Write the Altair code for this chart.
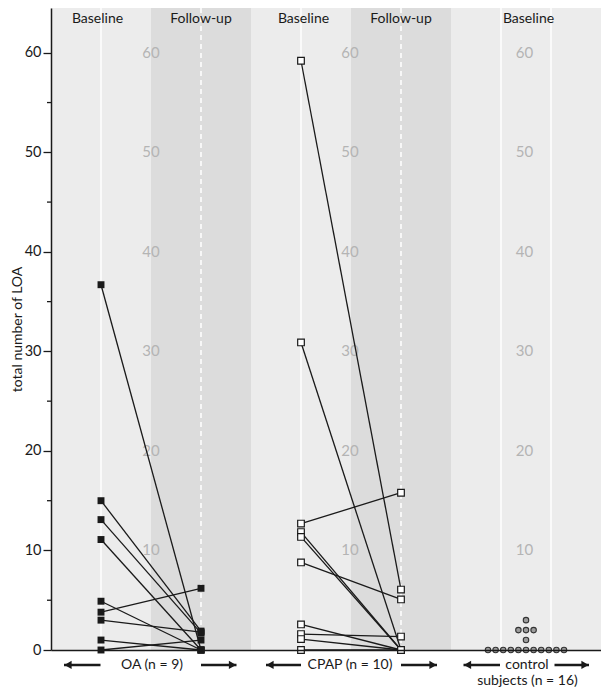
import altair as alt
import pandas as pd

# ---- data ----
oa_baseline = [36.7, 15.0, 13.1, 11.1, 4.9, 3.8, 3.0, 1.0, 0.0]
oa_followup = [0.0, 1.9, 1.7, 0.0, 0.0, 6.2, 1.8, 0.0, 1.0]
cpap_baseline = [59.2, 30.9, 12.7, 11.85, 11.36, 8.8, 2.57, 1.6, 1.1, 0.0]
cpap_followup = [6.07, 0.0, 15.8, 0.0, 0.0, 5.08, 0.0, 1.35, 0.0, 0.0]
control_baseline = [0] * 11 + [1, 2, 2, 2, 3]

# column positions (x units)
oa_pos = [1, 3]
cpap_pos = [5, 7]
control_pos = 9.5
dark_bands = [(2, 4), (6, 8)]
white_solid = [1, 5, 9, 10]
white_dashed = [3, 7]
inner_label_x = [2, 5.98, 9.47]
inner_label_vals = [10, 20, 30, 40, 50, 60]
headers = ["Baseline", "Follow-up", "Baseline", "Follow-up", "Baseline"]
header_x = [0.93, 3.0, 5.05, 7.0, 9.55]
header_y = 63.4
group_labels = ["OA (n = 9)", "CPAP (n = 10)", "control", "subjects (n = 16)"]
group_label_x = [2.02, 5.98, 9.52, 9.53]
group_label_y = [-1.5, -1.5, -1.5, -3.15]
arrow_y = -1.5
arrow_tail = [0.99, 3.0, 5.0, 7.0, 8.98, 10.07]
arrow_tip = [0.26, 3.71, 4.3, 7.72, 8.25, 10.76]
major_ticks = [0, 10, 20, 30, 40, 50, 60]
minor_ticks = [5, 15, 25, 35, 45, 55]

W, H = 550, 642
XS = alt.Scale(domain=[0, 11], nice=False, zero=False)
YS = alt.Scale(domain=[0, 64.5], nice=False, zero=False)
FONT = "Lato"
INK = "#1a1a1a"

# ---- tables ----
pairs = []
for i, (b, f) in enumerate(zip(oa_baseline, oa_followup)):
    pairs += [dict(id=f"oa{i}", grp="OA", x=oa_pos[0], v=b), dict(id=f"oa{i}", grp="OA", x=oa_pos[1], v=f)]
for i, (b, f) in enumerate(zip(cpap_baseline, cpap_followup)):
    pairs += [dict(id=f"cp{i}", grp="CPAP", x=cpap_pos[0], v=b), dict(id=f"cp{i}", grp="CPAP", x=cpap_pos[1], v=f)]
pairs = pd.DataFrame(pairs)

ctrl = pd.DataFrame({"v": control_baseline})
ctrl["k"] = ctrl.groupby("v").cumcount()
ctrl["n"] = ctrl.groupby("v")["v"].transform("count")
ctrl["x"] = control_pos + (ctrl["k"] - (ctrl["n"] - 1) / 2) * 0.152

bands = pd.DataFrame({"x": [b[0] for b in dark_bands], "x2": [b[1] for b in dark_bands]})
solid = pd.DataFrame({"x": white_solid})
dashed = pd.DataFrame({"x": white_dashed})
inner = pd.DataFrame([dict(x=xx, v=vv, t=str(vv)) for xx in inner_label_x for vv in inner_label_vals])
hdr = pd.DataFrame({"x": header_x, "t": headers, "v": header_y})
glab = pd.DataFrame({"x": group_label_x, "t": group_labels, "v": group_label_y})
arrows = pd.DataFrame({"x": arrow_tail, "x2": arrow_tip, "v": arrow_y})
arrows["dir"] = ["left" if t < s else "right" for s, t in zip(arrow_tail, arrow_tip)]
arrows["hx"] = [t + (0.08 if d == "left" else -0.08) for t, d in zip(arrows["x2"], arrows["dir"])]
minor = pd.DataFrame({"v": minor_ticks})

Y_AXIS = alt.Axis(values=major_ticks, tickSize=8, tickColor=INK, tickWidth=1.3,
                  domainColor=INK, domainWidth=1.5, labelFont=FONT, labelFontSize=14.5,
                  labelColor=INK, labelPadding=2, grid=False, title="total number of LOA",
                  titleFont=FONT, titleFontSize=14, titleFontWeight="normal", titleColor=INK,
                  titleX=-34, titleY=H / 2, titleBaseline="middle", titleAngle=270, zindex=1)
X_AXIS = alt.Axis(labels=False, ticks=False, grid=False, title=None, domainColor=INK,
                  domainWidth=1.5, zindex=1)


def X(f):
    return alt.X(f, scale=XS, axis=X_AXIS)


def Y(f):
    return alt.Y(f, scale=YS, axis=Y_AXIS)


band_layer = alt.Chart(bands).mark_rect(color="#dcdcdc").encode(
    x=X("x:Q"), x2="x2:Q", y=alt.value(0), y2=alt.value(H))

solid_layer = alt.Chart(solid).mark_rule(color="white", strokeWidth=1.5).encode(
    x=X("x:Q"), y=alt.value(0), y2=alt.value(H))
dashed_layer = alt.Chart(dashed).mark_rule(color="white", strokeWidth=1.5, strokeDash=[5, 4]).encode(
    x=X("x:Q"), y=alt.value(0), y2=alt.value(H))

inner_layer = alt.Chart(inner).mark_text(font=FONT, fontSize=15, color="#b4b4b4").encode(
    x=X("x:Q"), y=Y("v:Q"), text="t:N")

line_layer = alt.Chart(pairs).mark_line(color=INK, strokeWidth=1.3).encode(
    x=X("x:Q"), y=Y("v:Q"), detail="id:N")

oa_pts = alt.Chart(pairs[pairs.grp == "OA"]).mark_square(size=48, color=INK, opacity=1).encode(
    x=X("x:Q"), y=Y("v:Q"))
cp_pts = alt.Chart(pairs[pairs.grp == "CPAP"]).mark_point(
    shape="square", size=44, fill="white", stroke=INK, strokeWidth=1.2, filled=False, opacity=1,
    fillOpacity=1).encode(x=X("x:Q"), y=Y("v:Q"))

ctrl_layer = alt.Chart(ctrl).mark_point(
    shape="circle", size=30, fill="#9c9c9c", stroke="#333333", strokeWidth=1.1, opacity=1,
    fillOpacity=1).encode(x=X("x:Q"), y=Y("v:Q"))

hdr_layer = alt.Chart(hdr).mark_text(font=FONT, fontSize=14, color=INK).encode(
    x=X("x:Q"), y=Y("v:Q"), text="t:N")
glab_layer = alt.Chart(glab).mark_text(font=FONT, fontSize=14, color=INK).encode(
    x=X("x:Q"), y=Y("v:Q"), text="t:N")

arrow_line = alt.Chart(arrows).mark_rule(color=INK, strokeWidth=2.6).encode(
    x=X("x:Q"), x2="x2:Q", y=Y("v:Q"))
head_l = alt.Chart(arrows[arrows.dir == "left"]).mark_point(
    shape="triangle-left", size=70, filled=True, color=INK, opacity=1).encode(
    x=X("hx:Q"), y=Y("v:Q"))
head_r = alt.Chart(arrows[arrows.dir == "right"]).mark_point(
    shape="triangle-right", size=70, filled=True, color=INK, opacity=1).encode(
    x=X("hx:Q"), y=Y("v:Q"))

minor_layer = alt.Chart(minor).mark_rule(color=INK, strokeWidth=1.3).encode(
    x=alt.value(-4), x2=alt.value(0), y=Y("v:Q"))

chart = alt.layer(
    band_layer, solid_layer, dashed_layer, inner_layer, line_layer, oa_pts, cp_pts,
    ctrl_layer, hdr_layer, glab_layer, arrow_line, head_l, head_r, minor_layer
).properties(
    width=W, height=H,
    autosize=alt.AutoSizeParams(type="none"),
    padding={"left": 43, "top": 0, "right": 0, "bottom": 40},
).configure_view(fill="#ececec", stroke=None)

chart.save("out.html", embed_options={"renderer": "svg", "actions": False})
